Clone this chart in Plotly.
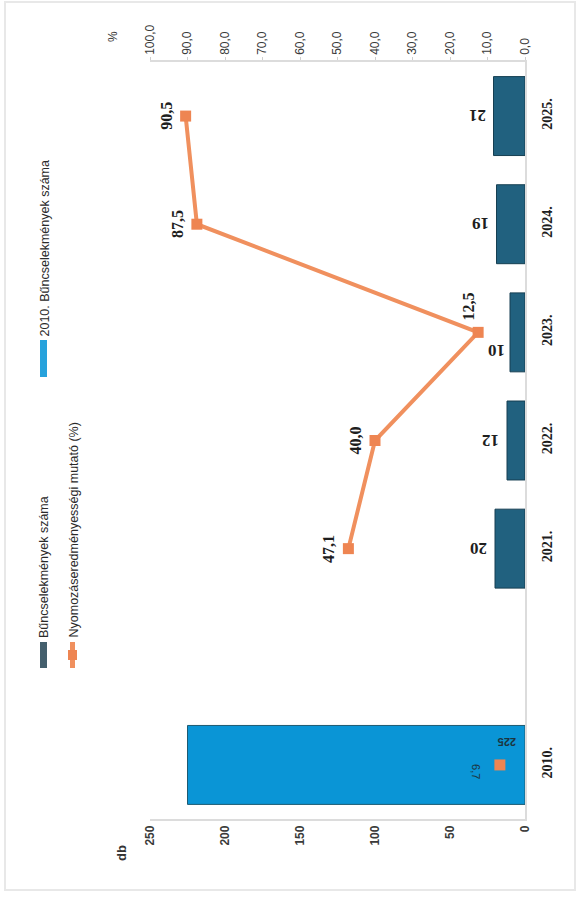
import plotly.graph_objects as go

# ---------------- data ----------------
categories = ["2010.", " ", "2021.", "2022.", "2023.", "2024.", "2025."]
years = ["2021.", "2022.", "2023.", "2024.", "2025."]
crimes = [20, 12, 10, 19, 21]
rate = [47.1, 40.0, 12.5, 87.5, 90.5]
base_year = ["2010."]
base_crimes = [225]
base_rate = [6.7]

db_ticks = [0, 50, 100, 150, 200, 250]
db_tick_labels = ["0", "50", "100", "150", "200", "250"]
pct_ticks = [0, 10, 20, 30, 40, 50, 60, 70, 80, 90, 100]
pct_tick_labels = ["0,0", "10,0", "20,0", "30,0", "40,0", "50,0",
                   "60,0", "70,0", "80,0", "90,0", "100,0"]

name_crimes = "Bűncselekmények száma"
name_rate = "Nyomozáseredményességi mutató (%)"
name_base = "2010. Bűncselekmények száma"
unit_left = "db"
unit_right = "%"

# ---------------- geometry / style ----------------
W, H = 582, 899
ML, MR, MT, MB = 150, 57, 62, 80
PW, PH = W - ML - MR, H - MT - MB


def px_x(px):
    return (px - ML) / PW


def px_y(py):
    return (H - MB - py) / PH


def cat_pos(c):
    # position of a category on the category axis (its index)
    return categories.index(c)


NARROW = "Liberation Sans Narrow, Arial Narrow, Liberation Sans, sans-serif"
SERIF = "Liberation Serif, Times New Roman, serif"
SANS = "Liberation Sans, Arial, sans-serif"

DARK = "#21617f"
DARK_EDGE = "#163f52"
LIGHT = "#0a95d6"
ORANGE_LINE = "#f0905e"
ORANGE_MARK = "#ee8552"
AXIS = "#dcdcdc"

fig = go.Figure()

fig.add_trace(go.Bar(
    x=crimes, y=years, orientation="h", name=name_crimes,
    marker=dict(color=DARK, line=dict(color=DARK_EDGE, width=1)),
))
fig.add_trace(go.Bar(
    x=base_crimes, y=base_year, orientation="h", name=name_base,
    marker=dict(color=LIGHT, line=dict(color="#1d5a72", width=1)),
))
fig.add_trace(go.Scatter(
    x=rate, y=years, xaxis="x2", yaxis="y", mode="lines+markers", name=name_rate,
    line=dict(color=ORANGE_LINE, width=4),
    marker=dict(symbol="square", size=11, color=ORANGE_MARK),
))
fig.add_trace(go.Scatter(
    x=base_rate, y=base_year, xaxis="x2", yaxis="y", mode="markers",
    name=name_rate, showlegend=False,
    marker=dict(symbol="square", size=11, color=ORANGE_MARK),
))

annotations = []

# bar value labels (upside down, beyond the bar end)
bar_nudge = {"2023.": (-13, -18)}
for y, v in zip(years, crimes):
    dx, dy = bar_nudge.get(y, (-16, 0))
    annotations.append(dict(
        x=v, y=cat_pos(y), xref="x", yref="y", text=str(v), showarrow=False,
        xanchor="center", yanchor="middle", xshift=dx, yshift=dy,
        textangle=180,
        font=dict(family=SERIF, size=17, color="#1e1e1e", weight="bold"),
    ))

# percentage labels
pct_nudge = {"2023.": (-10, 26)}
for y, v in zip(years, rate):
    dx, dy = pct_nudge.get(y, (-20, 0))
    annotations.append(dict(
        x=v, y=cat_pos(y), xref="x2", yref="y", text=f"{v:.1f}".replace(".", ","),
        showarrow=False, xanchor="center", yanchor="middle",
        xshift=dx, yshift=dy, textangle=-90,
        font=dict(family=SERIF, size=16, color="#1e1e1e", weight="bold"),
    ))

# 2010 labels
annotations.append(dict(
    x=0, y=cat_pos(base_year[0]), xref="x", yref="y", text=str(base_crimes[0]),
    showarrow=False, xanchor="center", yanchor="middle",
    xshift=-18, yshift=23, textangle=180,
    font=dict(family=SANS, size=11, color="#1c3440", weight="bold"),
))
annotations.append(dict(
    x=base_rate[0], y=cat_pos(base_year[0]), xref="x2", yref="y",
    text=f"{base_rate[0]:.1f}".replace(".", ","),
    showarrow=False, xanchor="center", yanchor="middle",
    xshift=-24, yshift=-7, textangle=90,
    font=dict(family=SANS, size=11, color="#1c3440"),
))

# axis unit labels
annotations.append(dict(
    x=px_x(121), y=px_y(853), xref="paper", yref="paper", text=unit_left,
    showarrow=False, xanchor="center", yanchor="middle", textangle=-90,
    font=dict(family=NARROW, size=13, color="#333333", weight="bold"),
))
annotations.append(dict(
    x=px_x(113), y=px_y(37), xref="paper", yref="paper", text=unit_right,
    showarrow=False, xanchor="center", yanchor="middle", textangle=-90,
    font=dict(family=NARROW, size=12, color="#333333"),
))

# legend (rotated, built from annotations + shapes)
legend_font = dict(family=SANS, size=12.5, color="#2a2a2a")
annotations += [
    dict(x=px_x(44), y=px_y(339), xref="paper", yref="paper", text=name_base,
         showarrow=False, xanchor="center", yanchor="bottom", textangle=-90,
         font=legend_font),
    dict(x=px_x(44), y=px_y(640), xref="paper", yref="paper", text=name_crimes,
         showarrow=False, xanchor="center", yanchor="bottom", textangle=-90,
         font=legend_font),
    dict(x=px_x(73), y=px_y(640), xref="paper", yref="paper", text=name_rate,
         showarrow=False, xanchor="center", yanchor="bottom", textangle=-90,
         font=legend_font),
]

shapes = [
    # outer frame of the scanned page
    dict(type="rect", xref="paper", yref="paper",
         x0=px_x(5), x1=px_x(575), y0=px_y(890), y1=px_y(2),
         line=dict(color="#e8e8e8", width=2), layer="below"),
    # legend swatches
    dict(type="rect", xref="paper", yref="paper",
         x0=px_x(40), x1=px_x(47), y0=px_y(377), y1=px_y(340),
         fillcolor="#27a2dc", line=dict(width=0)),
    dict(type="rect", xref="paper", yref="paper",
         x0=px_x(40), x1=px_x(47), y0=px_y(668), y1=px_y(642),
         fillcolor="#445f6d", line=dict(width=0)),
    dict(type="line", xref="paper", yref="paper",
         x0=px_x(72.5), x1=px_x(72.5), y0=px_y(668), y1=px_y(642),
         line=dict(color=ORANGE_LINE, width=5)),
    dict(type="rect", xref="paper", yref="paper",
         x0=px_x(68), x1=px_x(77), y0=px_y(660), y1=px_y(650),
         fillcolor=ORANGE_MARK, line=dict(width=0)),
]

fig.update_layout(
    width=W, height=H, autosize=False,
    margin=dict(l=ML, r=MR, t=MT, b=MB, pad=0),
    paper_bgcolor="white", plot_bgcolor="white",
    barmode="overlay", bargap=0.27,
    showlegend=False,
    annotations=annotations, shapes=shapes,
    xaxis=dict(
        range=[250, 0], tickvals=db_ticks, ticktext=db_tick_labels,
        tickangle=-90, showline=True, linecolor=AXIS, linewidth=1.5,
        showgrid=False, zeroline=False, ticks="",
        tickfont=dict(family=NARROW, size=12, color="#3a3a3a", weight="bold"),
    ),
    xaxis2=dict(
        overlaying="x", side="top", range=[100, 0],
        tickvals=pct_ticks, ticktext=pct_tick_labels, tickangle=-90,
        showline=True, linecolor=AXIS, linewidth=1.5,
        showgrid=False, zeroline=False,
        ticks="outside", ticklen=3, tickcolor="#cfcfcf",
        tickfont=dict(family=NARROW, size=12, color="#3a3a3a"),
    ),
    yaxis=dict(
        type="category", categoryorder="array", categoryarray=categories,
        range=[-0.5, len(categories) - 0.5], side="right", tickangle=-90,
        showline=True, linecolor=AXIS, linewidth=1.5,
        showgrid=False, zeroline=False, ticks="",
        ticklabelstandoff=8,
        tickfont=dict(family=SERIF, size=14, color="#1e1e1e", weight="bold"),
    ),
)

fig.write_html("out.html", config={"displayModeBar": False},
               post_script="document.body.style.margin='0';")
